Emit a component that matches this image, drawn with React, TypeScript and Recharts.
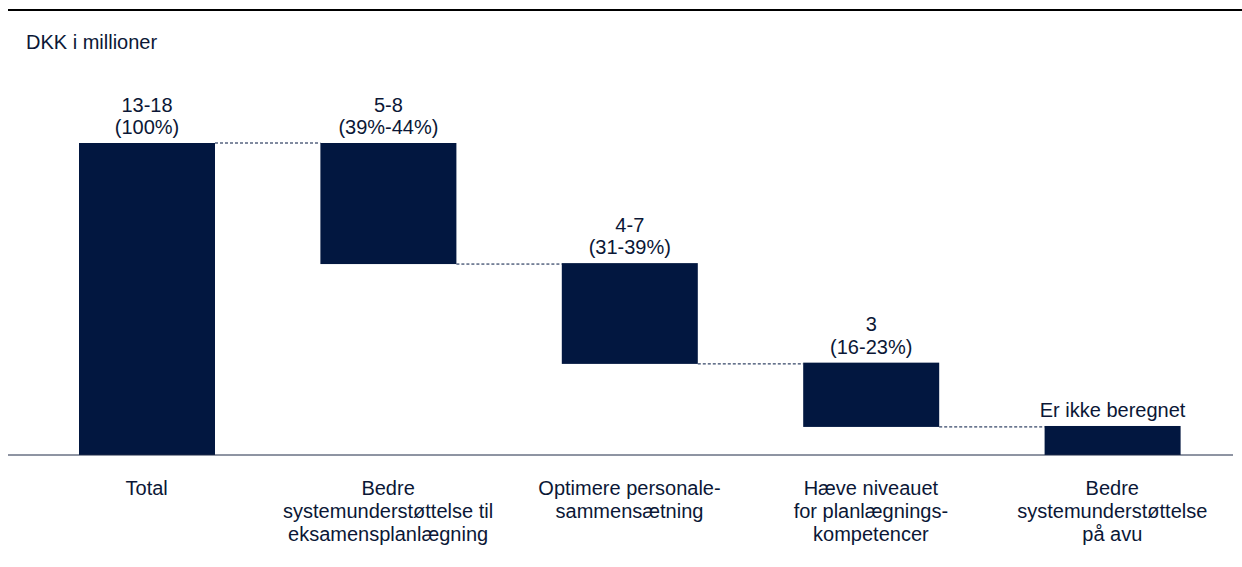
import { Bar, BarChart, XAxis, YAxis } from 'recharts';

// Vandfaldsdiagram: total + fire delpotentialer (DKK i millioner, skaleret til pct. af total)
const CATEGORIES = [
  'Total',
  'Bedre systemunderstøttelse til eksamensplanlægning',
  'Optimere personalesammensætning',
  'Hæve niveauet for planlægningskompetencer',
  'Bedre systemunderstøttelse på avu',
];
const TICK_LINES = [
  ['Total'],
  ['Bedre', 'systemunderstøttelse til', 'eksamensplanlægning'],
  ['Optimere personale-', 'sammensætning'],
  ['Hæve niveauet', 'for planlægnings-', 'kompetencer'],
  ['Bedre', 'systemunderstøttelse', 'på avu'],
];
const BAR_LOW = [0, 61.2, 29.2, 9.0, 0];
const BAR_HIGH = [100, 100, 61.5, 29.6, 9.3];
const VALUE_LABELS = [
  ['13-18', '(100%)'],
  ['5-8', '(39%-44%)'],
  ['4-7', '(31-39%)'],
  ['3', '(16-23%)'],
  ['Er ikke beregnet'],
];

const NAVY = '#021740';
const INK = '#0b1736';
const FONT = '"Liberation Sans", Arial, Helvetica, sans-serif';

const W = 1242;
const H = 567;
const M = { top: 143, right: 9, bottom: 12, left: 8 };
const XAXIS_H = 100;
const PAD_LEFT = 18;
const BAR_SIZE = 136;
const BAND = (W - M.left - M.right - PAD_LEFT) / CATEGORIES.length;
const GAP = BAND - BAR_SIZE;
const AXIS_Y = H - M.bottom - XAXIS_H;

const data = CATEGORIES.map((name, i) => ({ name, range: [BAR_LOW[i], BAR_HIGH[i]] }));

function StepBar(props: any) {
  const { x, y, width, height, index } = props;
  const top = Math.min(y, y + height);
  const h = Math.abs(height);
  const level = index === 0 ? top : top + h;
  const lines = VALUE_LABELS[index];
  const cx = x + width / 2;
  const last = top - 9;
  return (
    <g>
      <rect x={x} y={top} width={width} height={h} fill={NAVY} />
      {index < CATEGORIES.length - 1 && (
        <line
          x1={x + width}
          x2={x + width + GAP}
          y1={level}
          y2={level}
          stroke={NAVY}
          strokeWidth={1}
          strokeDasharray="3 2"
        />
      )}
      <text textAnchor="middle" fill={INK} fontSize={20} fontFamily={FONT}>
        {lines.map((l, k) => (
          <tspan key={k} x={cx} y={last - (lines.length - 1 - k) * 22.5}>
            {l}
          </tspan>
        ))}
      </text>
    </g>
  );
}

function CategoryTick(props: any) {
  const { x, index } = props;
  const lines = TICK_LINES[index] ?? [];
  return (
    <text textAnchor="middle" fill={INK} fontSize={20} fontFamily={FONT}>
      {lines.map((l, k) => (
        <tspan key={k} x={x} y={AXIS_Y + 40 + k * 23}>
          {l}
        </tspan>
      ))}
    </text>
  );
}

export default function App() {
  return (
    <div style={{ position: 'relative', width: W, height: H, background: '#fff', fontFamily: FONT }}>
      <style>{'body{margin:0}'}</style>
      <div style={{ position: 'absolute', left: 8, top: 9, width: W - 8, height: 2, background: '#000' }} />
      <div
        style={{
          position: 'absolute',
          left: 26,
          top: 32,
          fontSize: 20,
          lineHeight: '20px',
          color: INK,
          whiteSpace: 'nowrap',
        }}
      >
        DKK i millioner
      </div>
      <BarChart width={W} height={H} data={data} margin={M} barSize={BAR_SIZE}>
        <YAxis hide domain={[0, 100]} />
        <XAxis
          dataKey="name"
          height={XAXIS_H}
          interval={0}
          padding={{ left: PAD_LEFT, right: 0 }}
          axisLine={{ stroke: '#1f2b47', strokeWidth: 1 }}
          tickLine={false}
          tick={<CategoryTick />}
        />
        <Bar dataKey="range" isAnimationActive={false} shape={<StepBar />} />
      </BarChart>
    </div>
  );
}
